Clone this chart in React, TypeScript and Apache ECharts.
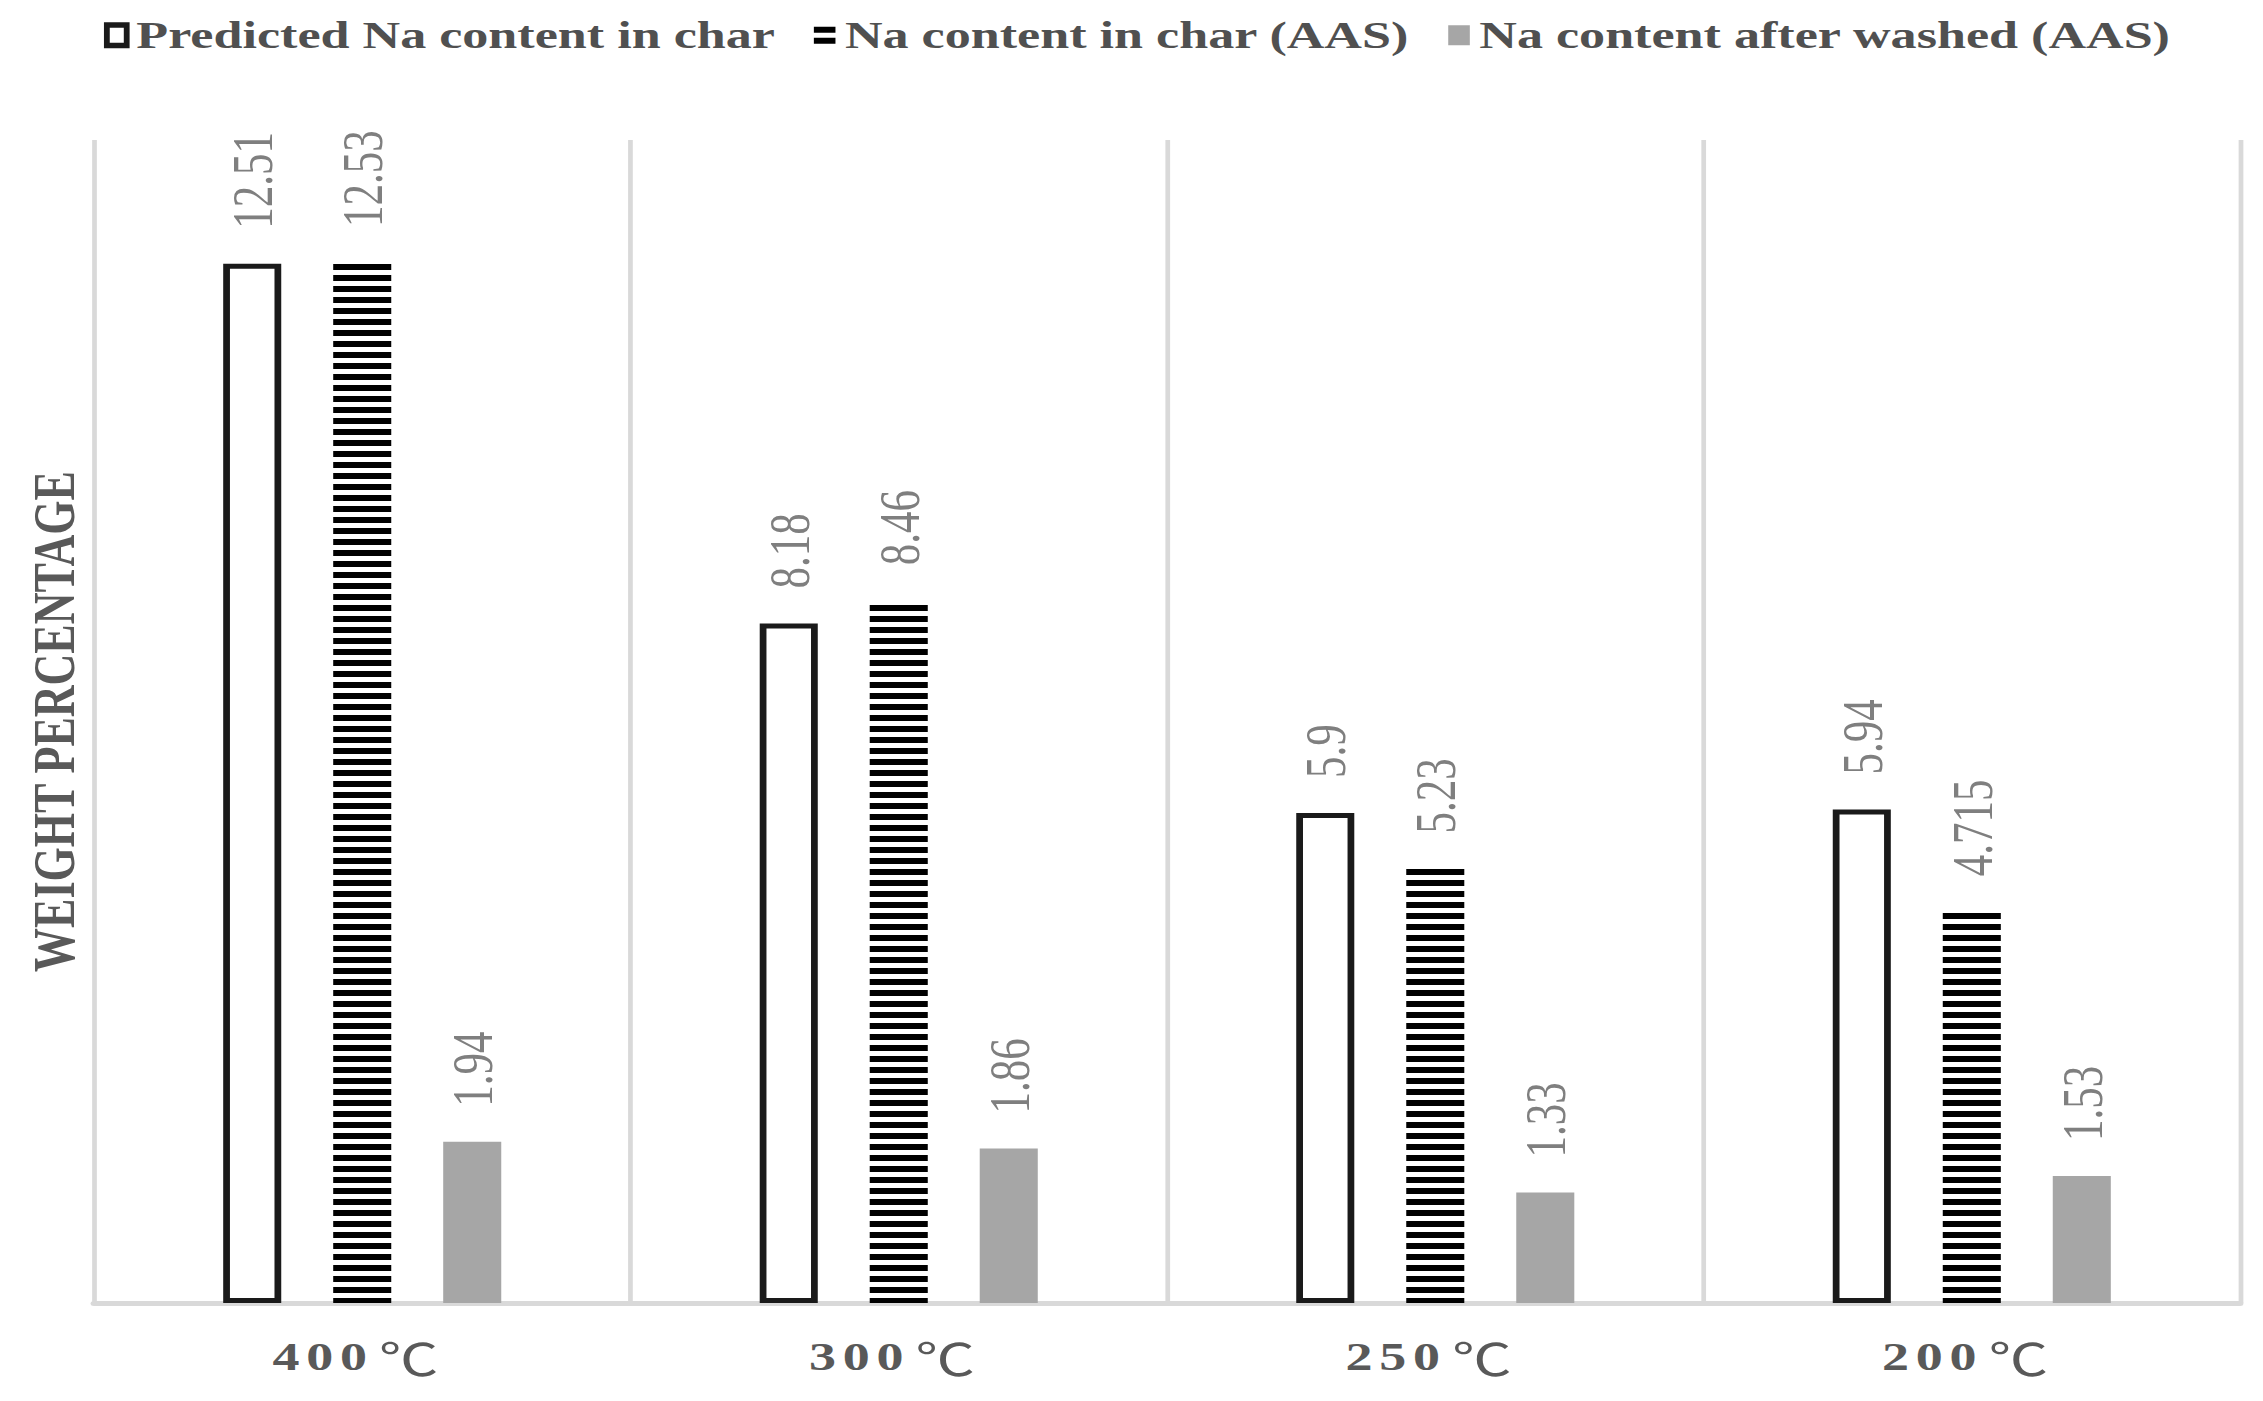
import React, { useEffect, useRef } from "react";
import * as echarts from "echarts";

const categories = ["400 ℃", "300 ℃", "250 ℃", "200 ℃"];
const predictedNa = [12.51, 8.18, 5.9, 5.94];
const naInCharAAS = [12.53, 8.46, 5.23, 4.715];
const naAfterWashed = [1.94, 1.86, 1.33, 1.53];
const seriesNames = [
  "Predicted Na content in char",
  "Na content in char (AAS)",
  "Na content after washed (AAS)",
];
const yAxisName = "WEIGHT PERCENTAGE";

const STRETCH = 1.35;
const W = 1676;
const H = 1401;
const FONT = '"Times New Roman", "Liberation Serif", "Noto Serif CJK SC", "Noto Sans CJK SC", serif';

function makeStripe() {
  const c = document.createElement("canvas");
  c.width = 4;
  c.height = 11;
  const ctx = c.getContext("2d")!;
  ctx.fillStyle = "#ffffff";
  ctx.fillRect(0, 0, 4, 11);
  ctx.fillStyle = "#000000";
  ctx.fillRect(0, 0, 4, 6);
  return { image: c, repeat: "repeat", imageWidth: 4, imageHeight: 11 } as any;
}

export default function App() {
  const ref = useRef<HTMLDivElement>(null);
  useEffect(() => {
    document.body.style.margin = "0";
    document.body.style.overflow = "hidden";
    document.documentElement.style.overflow = "hidden";
    const chart = echarts.init(ref.current!, null, { renderer: "svg" });
    const label = {
      show: true,
      position: "top",
      distance: 35,
      rotate: 90,
      align: "left",
      verticalAlign: "middle",
      color: "#7f7f7f",
      fontSize: 43,
      fontFamily: FONT,
    };
    const bbox = "M0,0L0.01,0L0,0.01Z M19,26L18.99,26L19,25.99Z ";
    chart.setOption({
      animation: false,
      backgroundColor: "#ffffff",
      legend: {
        left: 77,
        top: 16,
        padding: 0,
        itemGap: 28,
        itemWidth: 19,
        itemHeight: 26,
        selectedMode: false,
        textStyle: { fontSize: 38.6, fontWeight: "bold", color: "#505050", fontFamily: FONT },
        data: [
          {
            name: seriesNames[0],
            icon: "path://M0,0H19V26H0Z M4.3,5.5V20.5H14.7V5.5Z",
            itemStyle: { color: "#1a1a1a", borderWidth: 0 },
          },
          {
            name: seriesNames[1],
            icon: "path://" + bbox + "M1,4.5H17V10.5H1Z M1,15.5H17V21.5H1Z",
            itemStyle: { color: "#000000", borderWidth: 0 },
          },
          {
            name: seriesNames[2],
            icon: "path://" + bbox + "M1,3H17V23H1Z",
            itemStyle: { color: "#a6a6a6", borderWidth: 0 },
          },
        ],
      },
      grid: { left: 69.6, right: 16.7, top: 140, bottom: 98 },
      xAxis: {
        type: "category",
        data: categories,
        axisLine: { show: true, lineStyle: { color: "#d9d9d9", width: 5 } },
        axisTick: { show: false },
        splitLine: { show: true, lineStyle: { color: "#d9d9d9", width: 3.5 } },
        axisLabel: {
          margin: 32,
          formatter: (v: string) => {
            const [num, unit] = v.split(" ");
            return num.split("").map((d) => `{d|${d}}`).join("") + `{u|${unit}}`;
          },
          rich: {
            d: {
              fontSize: 40,
              fontWeight: "bold",
              color: "#595959",
              fontFamily: FONT,
              padding: [0, 5, 0, 0],
              verticalAlign: "middle",
            },
            u: {
              fontSize: 44,
              fontWeight: "normal",
              color: "#595959",
              fontFamily: '"Noto Sans CJK SC", sans-serif',
              padding: [0, 10, 0, 4],
              verticalAlign: "middle",
            },
          },
        },
      },
      yAxis: {
        type: "value",
        min: 0,
        max: 14,
        name: yAxisName,
        nameLocation: "middle",
        nameGap: 8,
        nameTextStyle: { fontSize: 44, fontWeight: "bold", color: "#595959", fontFamily: FONT },
        axisLine: { show: false },
        axisTick: { show: false },
        axisLabel: { show: false },
        splitLine: { show: false },
      },
      series: [
        {
          name: seriesNames[0],
          type: "bar",
          data: predictedNa,
          barWidth: 43,
          barGap: "89.5%",
          itemStyle: { color: "#ffffff", borderColor: "#1a1a1a", borderWidth: 5 },
          label,
        },
        {
          name: seriesNames[1],
          type: "bar",
          data: naInCharAAS,
          barWidth: 43,
          barGap: "89.5%",
          itemStyle: { color: makeStripe() },
          label,
        },
        {
          name: seriesNames[2],
          type: "bar",
          data: naAfterWashed,
          barWidth: 43,
          barGap: "89.5%",
          itemStyle: { color: "#a6a6a6" },
          label,
        },
      ],
    });
    return () => chart.dispose();
  }, []);
  return (
    <div
      ref={ref}
      style={{
        width: W,
        height: H,
        transform: `scaleX(${STRETCH})`,
        transformOrigin: "0 0",
      }}
    />
  );
}
